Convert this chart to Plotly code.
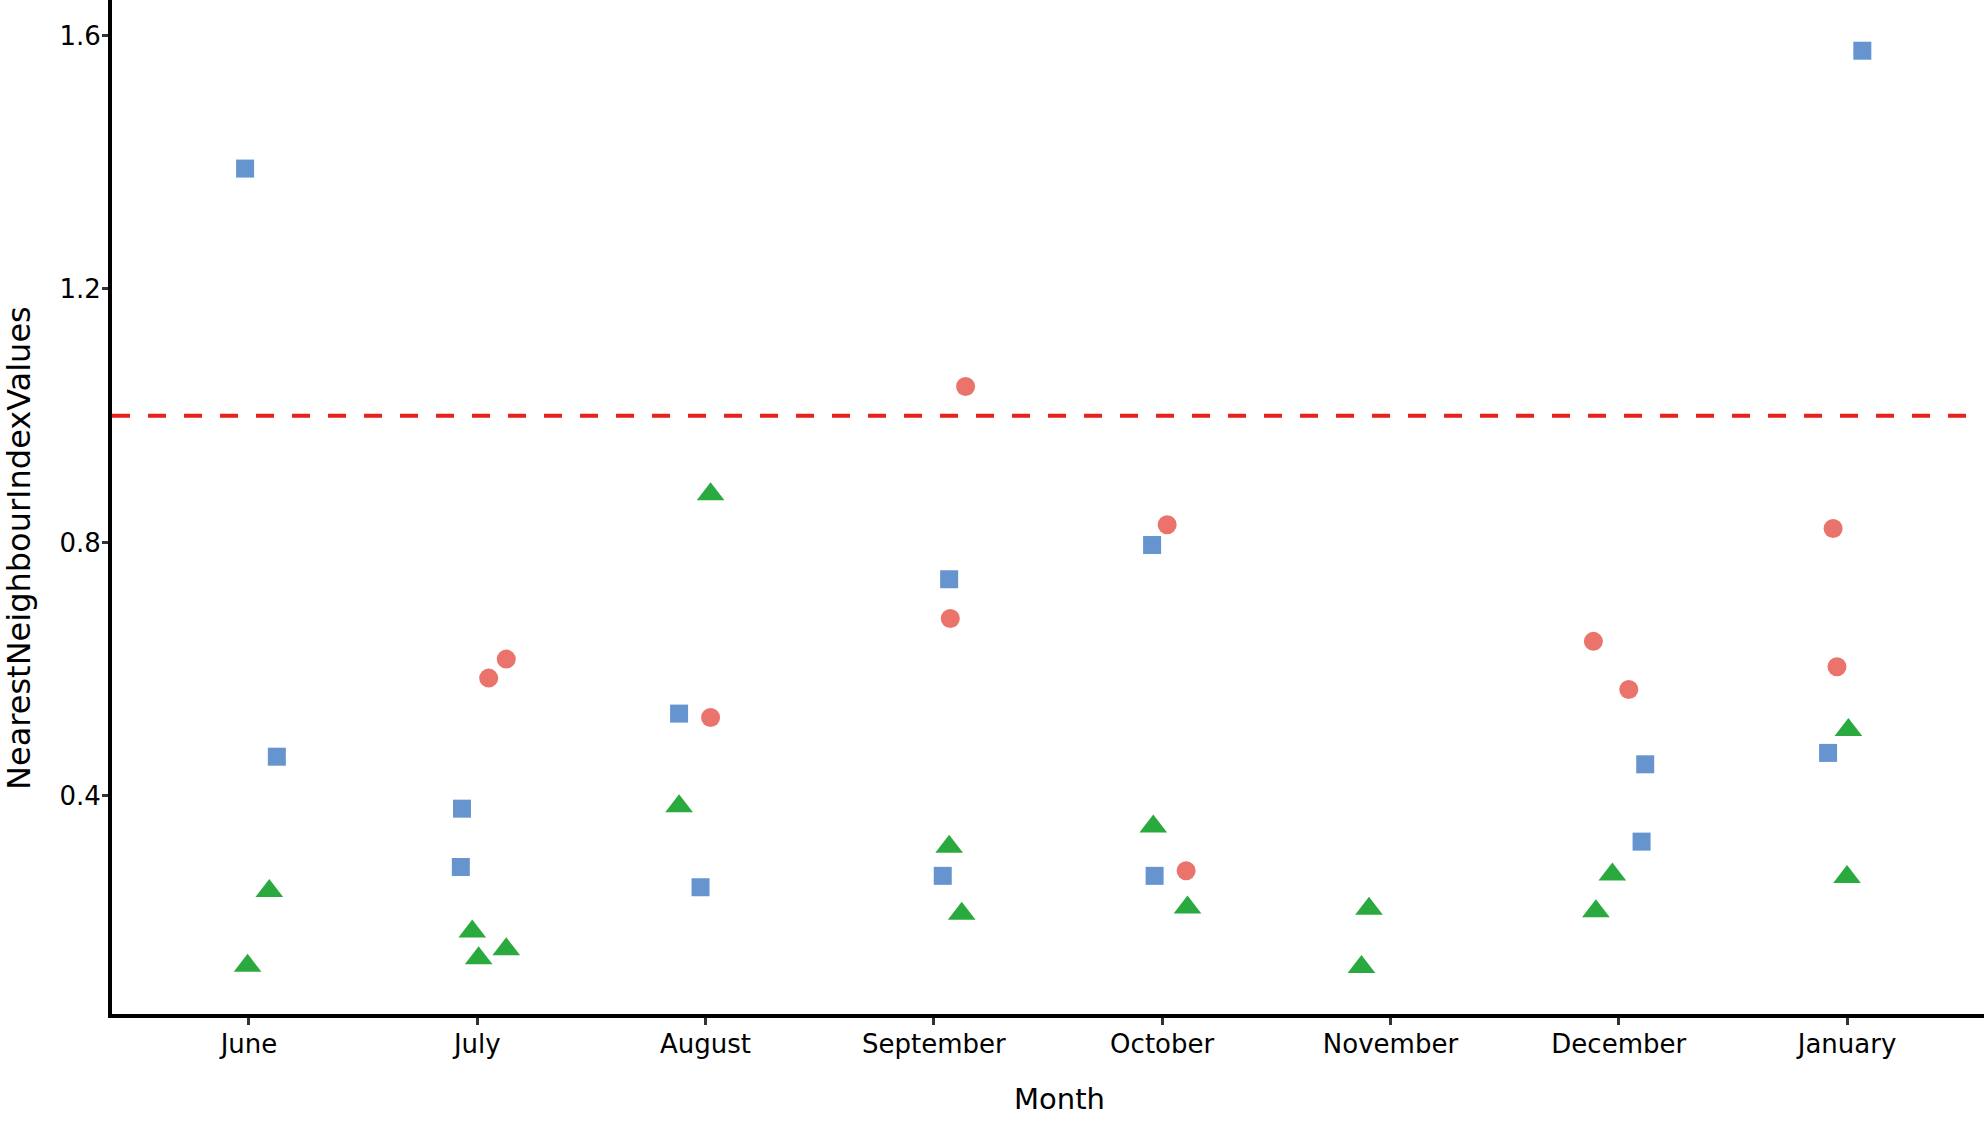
import plotly.graph_objects as go

months = ["June", "July", "August", "September", "October", "November", "December", "January"]

# Circles (red group)
red_month = ["July", "July", "August", "September", "September", "October", "October",
             "December", "December", "January", "January"]
red_value = [0.586, 0.616, 0.524, 1.046, 0.680, 0.828, 0.282, 0.644, 0.568, 0.822, 0.604]
red_jitter = [0.050, 0.127, 0.022, 0.139, 0.072, 0.022, 0.105, -0.111, 0.044, -0.061, -0.044]

# Squares (blue group)
blue_month = ["June", "June", "July", "July", "August", "August", "September", "September",
              "October", "October", "December", "December", "January", "January"]
blue_value = [1.390, 0.462, 0.380, 0.288, 0.530, 0.256, 0.742, 0.274, 0.796, 0.274,
              0.450, 0.328, 1.576, 0.468]
blue_jitter = [-0.017, 0.122, -0.067, -0.072, -0.116, -0.022, 0.067, 0.039, -0.044, -0.033,
               0.116, 0.100, 0.067, -0.083]

# Triangles (green group)
green_month = ["June", "June", "July", "July", "July", "August", "August", "September",
               "September", "October", "October", "November", "November", "December",
               "December", "January", "January"]
green_value = [0.250, 0.132, 0.186, 0.144, 0.158, 0.876, 0.384, 0.320, 0.214, 0.352, 0.224,
               0.222, 0.130, 0.276, 0.218, 0.504, 0.272]
green_jitter = [0.089, -0.006, -0.022, 0.006, 0.127, 0.022, -0.116, 0.067, 0.122, -0.039,
                0.111, -0.094, -0.127, -0.028, -0.100, 0.006, 0.000]

reference_value = 1.0
y_ticks = [0.4, 0.8, 1.2, 1.6]
x_title = "Month"
y_title = "NearestNeighbourIndexValues"

def xpos(ms, js):
    return [months.index(m) + j for m, j in zip(ms, js)]

FONT = "DejaVu Sans"
fig = go.Figure()
fig.add_trace(go.Scatter(x=xpos(red_month, red_jitter), y=red_value, mode="markers",
                         marker=dict(symbol="circle", size=19, color="#EA736B"),
                         showlegend=False))
fig.add_trace(go.Scatter(x=xpos(blue_month, blue_jitter), y=blue_value, mode="markers",
                         marker=dict(symbol="square", size=18, color="#6694CF"),
                         showlegend=False))
fig.add_trace(go.Scatter(x=xpos(green_month, green_jitter), y=green_value, mode="markers",
                         marker=dict(symbol="triangle-up", size=24, color="#2AAA3E"),
                         showlegend=False))

fig.add_hline(y=reference_value, line=dict(color="#E8211B", width=4, dash="18px,18px"))

fig.update_layout(
    width=1988, height=1121,
    margin=dict(l=112, r=4, t=0, b=107),
    plot_bgcolor="white", paper_bgcolor="white",
    font=dict(family=FONT, color="black"),
)
fig.update_xaxes(
    range=[-0.6, 7.6], tickvals=list(range(len(months))), ticktext=months,
    automargin=False,
    showgrid=False, zeroline=False, showline=True, linecolor="black", linewidth=4,
    ticks="outside", ticklen=7, tickwidth=3, tickcolor="#333333", ticklabelstandoff=-3,
    tickfont=dict(size=26, family=FONT, color="black"),
)
fig.update_yaxes(
    range=[0.056, 1.656], tickvals=y_ticks, tickformat=".1f",
    automargin=False,
    showgrid=False, zeroline=False, showline=True, linecolor="black", linewidth=4,
    ticks="outside", ticklen=6, tickwidth=3, tickcolor="#333333", ticklabelstandoff=-4,
    tickfont=dict(size=26, family=FONT, color="black"),
)

fig.add_annotation(text=x_title, xref="paper", yref="paper", x=0.5064, y=-0.0838,
                   xanchor="center", yanchor="middle", showarrow=False,
                   font=dict(size=29, family=FONT, color="black"))
fig.add_annotation(text=y_title, xref="paper", yref="paper", x=-0.0497, y=0.4596,
                   xanchor="center", yanchor="middle", showarrow=False, textangle=-90,
                   font=dict(size=32, family=FONT, color="black"))

fig.write_html("out.html", config={"displayModeBar": False},
               post_script="document.body.style.margin='0';document.body.style.padding='0';")
